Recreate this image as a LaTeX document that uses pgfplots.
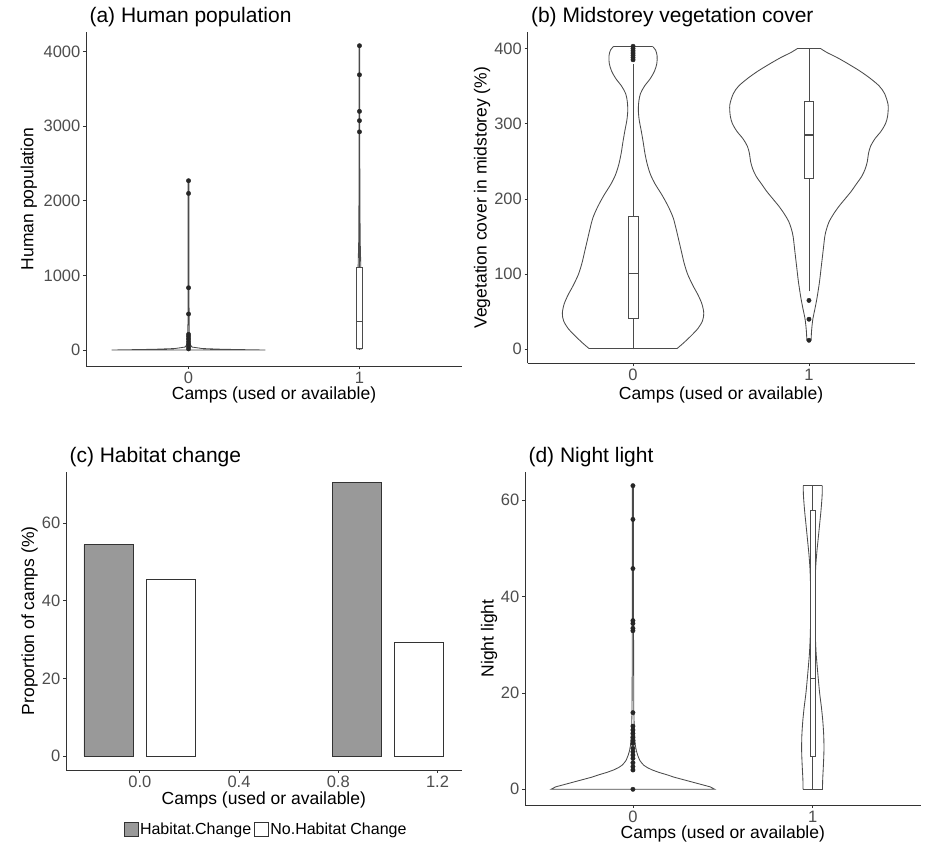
\documentclass[border=0pt]{standalone}
\usepackage{fontspec}
\setmainfont{Liberation Sans}
\usepackage{pgfplots}
\pgfplotsset{compat=1.18}

\definecolor{linegrey}{RGB}{75,75,75}
\definecolor{axisgrey}{RGB}{51,51,51}
\definecolor{ticktext}{RGB}{77,77,77}
\definecolor{barfill}{RGB}{153,153,153}

\pgfplotsset{
  panel/.style={
    scale only axis,
    axis lines=left,
    axis line style={-, draw=axisgrey, line width=0.9pt},
    tick style={draw=axisgrey, line width=0.8pt},
    tick align=outside,
    major tick length=3pt,
    minor tick num=0,
    tick label style={font=\fontsize{16.5}{19}\selectfont, text=ticktext, inner sep=2.5pt},
    /pgf/number format/assume math mode=true,
    /pgf/number format/1000 sep={},
    every axis title/.style={anchor=base west, font=\fontsize{21}{25}\selectfont},
    xlabel style={anchor=base, font=\fontsize{17.5}{21}\selectfont},
    ylabel style={rotate=0, anchor=center, font=\fontsize{17.5}{21}\selectfont},
    clip=false,
  },
  vio/.style={draw=linegrey, line width=0.85pt, no markers},
  box/.style={draw=linegrey, line width=0.85pt, fill=white, no markers},
  med/.style={draw=linegrey, line width=1.5pt, no markers},
  pts/.style={only marks, mark=*, mark size=2.2pt,
    mark options={fill=black!85, draw=black!85}},
}

\begin{document}
\begin{tikzpicture}[x=1pt,y=1pt]
\path[use as bounding box] (0,0) rectangle (928,842);

%% (a) Human population
\begin{axis}[panel, at={(86pt,476pt)}, anchor=south west,
  width=376pt, height=334pt,
  xmin=-0.6, xmax=1.6, ymin=-214, ymax=4264,
  xtick={0,1}, ytick={0,1000,2000,3000,4000},
  title={(a) Human population},
  title style={at={(axis description cs:0,1.028)}},
  xlabel={Camps (used or available)},
  xlabel style={at={(axis description cs:0.5,-0.1018)}},
  ylabel={Human population},
  ylabel style={at={(axis description cs:-0.1521,0.5)}}]
% violin, unused sites
\addplot[vio] coordinates {(0.003,2270) (0.003,600) (0.004,200) (0.008,80)
  (0.02,40) (0.08,20) (0.2,10) (0.35,4) (0.45,0) (-0.45,0) (-0.35,4) (-0.2,10)
  (-0.08,20) (-0.02,40) (-0.008,80) (-0.004,200) (-0.003,600) (-0.003,2270)} -- cycle;
% violin, used camps
\addplot[vio] coordinates {(1.002,4080) (1.002,2500) (1.004,1500) (1.008,1100)
  (1.012,600) (1.014,200) (1.012,13) (0.988,13) (0.986,200) (0.988,600)
  (0.992,1100) (0.996,1500) (0.998,2500) (0.998,4080)} -- cycle;
% box, used camps
\addplot[vio] coordinates {(1,13) (1,20)};
\addplot[vio] coordinates {(1,1104) (1,2600)};
\addplot[box] coordinates {(0.984,20) (1.016,20) (1.016,1104) (0.984,1104)} -- cycle;
\addplot[med] coordinates {(0.984,380) (1.016,380)};
% outliers
\addplot[pts] coordinates {(0,2270) (0,2100) (0,835) (0,483) (0,210) (0,180)
  (0,148) (0,112) (0,78) (0,45) (0,15)};
\addplot[pts] coordinates {(1,4080) (1,3690) (1,3200) (1,3075) (1,2925)};
\end{axis}

%% (b) Midstorey vegetation cover
\begin{axis}[panel, at={(527.5pt,478.7pt)}, anchor=south west,
  width=387pt, height=331.3pt,
  xmin=-0.6, xmax=1.6, ymin=-18.6, ymax=422,
  xtick={0,1}, ytick={0,100,200,300,400},
  title={(b) Midstorey vegetation cover},
  title style={at={(axis description cs:0,1.0281)}},
  xlabel={Camps (used or available)},
  xlabel style={at={(axis description cs:0.5,-0.1078)}},
  ylabel={Vegetation cover in midstorey (\%)},
  ylabel style={at={(axis description cs:-0.1176,0.5)}}]
% violin, unused sites
\addplot[vio, smooth, tension=0.5] coordinates {(0.110,403) (0.128,398) (0.137,390)
  (0.135,380) (0.122,370) (0.098,360) (0.065,350) (0.042,340) (0.033,330)
  (0.030,318) (0.035,305) (0.047,290) (0.058,275) (0.068,260) (0.082,245)
  (0.100,232) (0.125,220) (0.165,205) (0.200,190) (0.228,175) (0.245,160)
  (0.260,145) (0.275,130) (0.290,115) (0.310,100) (0.340,85) (0.370,72)
  (0.392,60) (0.402,48) (0.395,38) (0.370,28) (0.330,18) (0.285,8) (0.250,1)};
\addplot[vio, smooth, tension=0.5] coordinates {(-0.110,403) (-0.128,398) (-0.137,390)
  (-0.135,380) (-0.122,370) (-0.098,360) (-0.065,350) (-0.042,340) (-0.033,330)
  (-0.030,318) (-0.035,305) (-0.047,290) (-0.058,275) (-0.068,260) (-0.082,245)
  (-0.100,232) (-0.125,220) (-0.165,205) (-0.200,190) (-0.228,175) (-0.245,160)
  (-0.260,145) (-0.275,130) (-0.290,115) (-0.310,100) (-0.340,85) (-0.370,72)
  (-0.392,60) (-0.402,48) (-0.395,38) (-0.370,28) (-0.330,18) (-0.285,8) (-0.250,1)};
\addplot[vio] coordinates {(-0.110,403) (0.110,403)};
\addplot[vio] coordinates {(-0.250,1) (0.250,1)};
% violin, used camps
\addplot[vio, smooth, tension=0.5] coordinates {(1.066,400) (1.100,395) (1.160,388)
  (1.220,380) (1.290,370) (1.350,360) (1.400,350) (1.430,340) (1.450,325)
  (1.447,310) (1.435,300) (1.410,290) (1.375,280) (1.350,270) (1.338,260)
  (1.332,250) (1.320,240) (1.300,230) (1.270,220) (1.240,210) (1.205,200)
  (1.170,190) (1.140,180) (1.115,170) (1.100,160) (1.090,150) (1.080,130)
  (1.070,110) (1.060,90) (1.047,70) (1.035,55) (1.022,40) (1.015,25) (1.012,12)};
\addplot[vio, smooth, tension=0.5] coordinates {(0.934,400) (0.900,395) (0.840,388)
  (0.780,380) (0.710,370) (0.650,360) (0.600,350) (0.570,340) (0.550,325)
  (0.553,310) (0.565,300) (0.590,290) (0.625,280) (0.650,270) (0.662,260)
  (0.668,250) (0.680,240) (0.700,230) (0.730,220) (0.760,210) (0.795,200)
  (0.830,190) (0.860,180) (0.885,170) (0.900,160) (0.910,150) (0.920,130)
  (0.930,110) (0.940,90) (0.953,70) (0.965,55) (0.978,40) (0.985,25) (0.988,12)};
\addplot[vio] coordinates {(0.934,400) (1.066,400)};
\addplot[vio] coordinates {(0.988,12) (1.012,12)};
% boxes and whiskers
\addplot[vio] coordinates {(0,0) (0,41)};
\addplot[vio] coordinates {(0,176.5) (0,380)};
\addplot[box] coordinates {(-0.028,41) (0.028,41) (0.028,176.5) (-0.028,176.5)} -- cycle;
\addplot[med] coordinates {(-0.028,101) (0.028,101)};
\addplot[vio] coordinates {(1,77) (1,227.5)};
\addplot[vio] coordinates {(1,329.6) (1,400)};
\addplot[box] coordinates {(0.972,227.5) (1.028,227.5) (1.028,329.6) (0.972,329.6)} -- cycle;
\addplot[med] coordinates {(0.972,285) (1.028,285)};
% outliers
\addplot[pts] coordinates {(0,385) (0,388) (0,391) (0,394) (0,397) (0,400) (0,403)};
\addplot[pts] coordinates {(1,65) (1,40) (1,12)};
\end{axis}

%% (c) Habitat change
\begin{axis}[panel, at={(66pt,72pt)}, anchor=south west,
  width=395.7pt, height=298.3pt,
  xmin=-0.2975, xmax=1.2975, ymin=-3.6, ymax=73.3,
  xtick={0,0.4,0.8,1.2}, ytick={0,20,40,60},
  xticklabel style={/pgf/number format/.cd, fixed, fixed zerofill, precision=1},
  title={(c) Habitat change},
  title style={at={(axis description cs:0,1.0302)}},
  xlabel={Camps (used or available)},
  xlabel style={at={(axis description cs:0.5,-0.114)}},
  ylabel={Proportion of camps (\%)},
  ylabel style={at={(axis description cs:-0.0922,0.5)}},
  legend columns=2,
  legend cell align=left,
  legend style={at={(axis description cs:0.5,-0.1978)}, anchor=center,
    xshift=2pt, draw=none, fill=none, inner sep=0pt,
    font=\fontsize{16}{19}\selectfont,
    nodes={inner sep=1.2pt},
    /tikz/every even column/.style={column sep=2pt}}]
\addplot[ybar, bar width=0.2, bar shift=0pt, fill=barfill, draw=axisgrey,
  line width=0.8pt,
  legend image code/.code={\draw[fill=barfill, draw=axisgrey, line width=0.8pt]
    (0pt,-7pt) rectangle (14pt,7pt);}]
  coordinates {(-0.125,54.5) (0.875,70.6)};
\addlegendentry{Habitat.Change}
\addplot[ybar, bar width=0.2, bar shift=0pt, fill=white, draw=axisgrey,
  line width=0.8pt,
  legend image code/.code={\draw[fill=white, draw=axisgrey, line width=0.8pt]
    (0pt,-7pt) rectangle (14pt,7pt);}]
  coordinates {(0.125,45.5) (1.125,29.4)};
\addlegendentry{No.Habitat Change}
\end{axis}

%% (d) Night light
\begin{axis}[panel, at={(525pt,37pt)}, anchor=south west,
  width=395.7pt, height=333.3pt,
  xmin=-0.6, xmax=1.6, ymin=-3.26, ymax=65.9,
  xtick={0,1}, ytick={0,20,40,60},
  title={(d) Night light},
  title style={at={(axis description cs:0,1.027)}},
  xlabel={Camps (used or available)},
  xlabel style={at={(axis description cs:0.5,-0.0999)}},
  ylabel={Night light},
  ylabel style={at={(axis description cs:-0.091,0.5)}}]
% violin, unused sites
\addplot[vio] coordinates {(0.003,63) (0.003,40) (0.004,25) (0.005,16) (0.008,12)
  (0.011,10) (0.014,9) (0.019,8) (0.027,7) (0.038,6) (0.048,5.5) (0.060,5)
  (0.080,4.5) (0.108,4) (0.145,3.5) (0.190,3) (0.230,2.5) (0.280,2) (0.330,1.5)
  (0.380,1) (0.430,0.5) (0.455,0) (-0.455,0) (-0.430,0.5) (-0.380,1) (-0.330,1.5)
  (-0.280,2) (-0.230,2.5) (-0.190,3) (-0.145,3.5) (-0.108,4) (-0.080,4.5)
  (-0.060,5) (-0.048,5.5) (-0.038,6) (-0.027,7) (-0.019,8) (-0.014,9)
  (-0.011,10) (-0.008,12) (-0.005,16) (-0.004,25) (-0.003,40) (-0.003,63)} -- cycle;
% violin, used camps
\addplot[vio, smooth, tension=0.5] coordinates {(1.053,63) (1.052,61) (1.046,58)
  (1.038,55) (1.030,52) (1.022,49) (1.016,46) (1.013,43) (1.012,40) (1.012,36)
  (1.014,32) (1.019,28) (1.028,24) (1.038,20) (1.048,17) (1.056,14) (1.061,11)
  (1.062,8) (1.059,5) (1.055,2) (1.054,0)};
\addplot[vio, smooth, tension=0.5] coordinates {(0.947,63) (0.948,61) (0.954,58)
  (0.962,55) (0.970,52) (0.978,49) (0.984,46) (0.987,43) (0.988,40) (0.988,36)
  (0.986,32) (0.981,28) (0.972,24) (0.962,20) (0.952,17) (0.944,14) (0.939,11)
  (0.938,8) (0.941,5) (0.945,2) (0.946,0)};
\addplot[vio] coordinates {(0.947,63) (1.053,63)};
\addplot[vio] coordinates {(0.946,0) (1.054,0)};
% box, used camps
\addplot[vio] coordinates {(1,0) (1,6.9)};
\addplot[vio] coordinates {(1,57.9) (1,63)};
\addplot[box] coordinates {(0.988,6.9) (1.012,6.9) (1.012,57.9) (0.988,57.9)} -- cycle;
\addplot[med] coordinates {(0.988,23) (1.012,23)};
% outliers
\addplot[pts] coordinates {(0,63) (0,56) (0,45.8) (0,35) (0,34.4) (0,33.4) (0,32.9)
  (0,15.9) (0,13.1) (0,12.3) (0,11.6) (0,10.8) (0,10.1) (0,9.5) (0,8.5) (0,7.8)
  (0,7.1) (0,6.4) (0,5.5) (0,4.7) (0,4.0) (0,0)};
\end{axis}
\end{tikzpicture}
\end{document}
